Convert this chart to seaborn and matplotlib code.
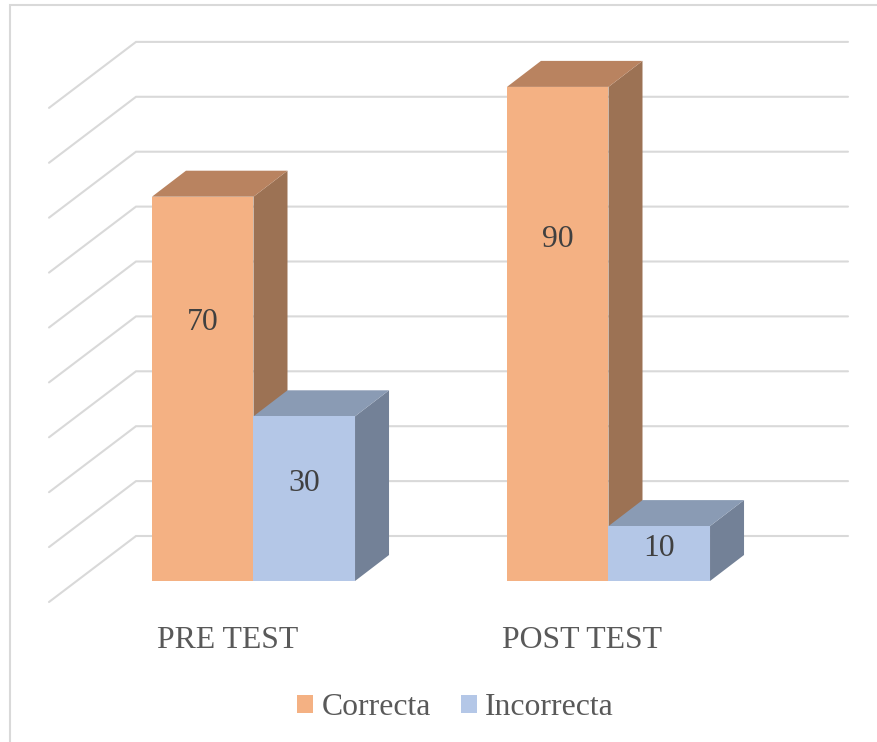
import matplotlib
matplotlib.use("Agg")
import matplotlib.pyplot as plt
from matplotlib.lines import Line2D
import pandas as pd
import seaborn as sns

categories = ["PRE TEST", "POST TEST"]
series_names = ["Correcta", "Incorrecta"]
correcta = [70, 90]
incorrecta = [30, 10]
grid_values = [0, 10, 20, 30, 40, 50, 60, 70, 80, 90]

W, H = 878, 742
sns.set_theme(style="white")
plt.rcParams["font.family"] = ["Liberation Serif", "DejaVu Serif"]

FS = 22.85
TEXT = "#595959"
GRID = "#d9d9d9"
front = {"Correcta": "#F4B183", "Incorrecta": "#B4C7E7"}
top = {"Correcta": "#B98360", "Incorrecta": "#8A9BB4"}
side = {"Correcta": "#9C7254", "Incorrecta": "#738197"}

# pixel scale of the chart
PX_X = 355.0      # px per category
PX_Y = 5.49       # px per value unit
X0, Y0 = 253.5, 581.0  # px position of first category, value 0
L, R, T, B = 49, 848, 41, 602

def xd(px):
    return (px - X0) / PX_X

def yd(py):
    return (Y0 - py) / PX_Y

df = pd.DataFrame({
    "Grupo": categories * 2,
    "Serie": [series_names[0]] * len(categories) + [series_names[1]] * len(categories),
    "Valor": correcta + incorrecta,
})

fig = plt.figure(figsize=(W / 100, H / 100), dpi=100, facecolor="white")
ax = fig.add_axes([L / W, 1 - B / H, (R - L) / W, (B - T) / H])
ax.patch.set_alpha(0)

sns.barplot(data=df, x="Grupo", y="Valor", hue="Serie", order=categories,
            hue_order=series_names, palette=front, width=0.572, gap=0,
            saturation=1, errorbar=None, linewidth=0, ax=ax, legend=True)

ax.set_xlim(xd(L), xd(R))
ax.set_ylim(yd(B), yd(T))

# depth of the 3D bars and of the floor, in data units
DX, DY = 34 / PX_X, 26 / PX_Y
GX, GY = (136 - L) / PX_X, 66 / PX_Y
wall_left = xd(136)

# back wall and side wall gridlines
floor_back = 45 / PX_Y
for v in grid_values:
    yb = v + floor_back
    ax.plot([xd(L), wall_left, xd(R)], [yb - GY, yb, yb], color=GRID, lw=1.5,
            zorder=1, solid_joinstyle="miter", clip_on=False)

# 3D faces for every bar, taken from the bars seaborn drew
label_frac = {"Correcta": [0.672, 0.691], "Incorrecta": [0.589, 0.585]}
for i, (name, cont) in enumerate(zip(series_names, ax.containers)):
    for j, bar in enumerate(cont):
        x0, w, h = bar.get_x(), bar.get_width(), bar.get_height()
        x1 = x0 + w
        z = 3 + i
        bar.set_zorder(z + 0.2)
        ax.fill([x1, x1 + DX, x1 + DX, x1], [0, DY, h + DY, h],
                color=side[name], lw=0, zorder=z)
        ax.fill([x0, x0 + DX, x1 + DX, x1], [h, h + DY, h + DY, h],
                color=top[name], lw=0, zorder=z + 0.1)
        ax.text(x0 + w / 2, h * label_frac[name][j], f"{h:.0f}", ha="center",
                va="center", fontsize=FS, color="#404040", zorder=10)

# axis text
ax.set_xticks([i - 26 / PX_X for i in range(len(categories))], categories)
ax.set_yticks([])
ax.set_xlabel("")
ax.set_ylabel("")
ax.tick_params(axis="x", length=0, pad=17.5, labelsize=FS, labelcolor=TEXT)
sns.despine(ax=ax, left=True, bottom=True)

# legend
ax.legend(ncol=2, loc="center", bbox_to_anchor=(455.5 / W, 1 - 707.5 / H),
          bbox_transform=fig.transFigure, frameon=False, fontsize=FS,
          labelcolor=TEXT, title=None, borderpad=0, borderaxespad=0,
          handlelength=0.51, handleheight=0.51, handletextpad=0.25,
          columnspacing=0.95)

# chart frame (left and top edges are in view)
fig.add_artist(Line2D([10 / W, 10 / W, 1], [0, 1 - 5 / H, 1 - 5 / H],
                      color=GRID, lw=1.5, solid_joinstyle="miter"))

fig.savefig("out.png", dpi=100, facecolor="white")
